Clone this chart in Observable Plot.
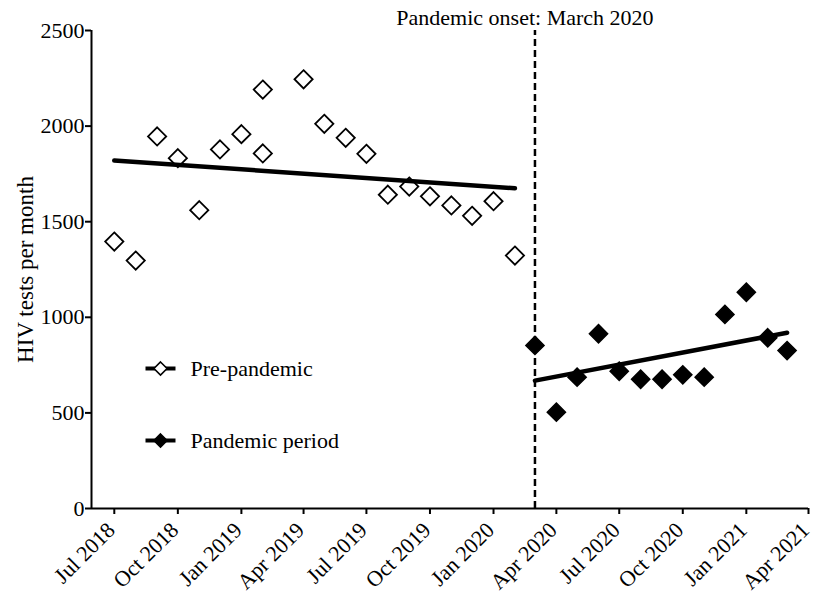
<!DOCTYPE html>
<html><head><meta charset="utf-8">
<script src="https://cdn.jsdelivr.net/npm/d3@7"></script>
<script src="https://cdn.jsdelivr.net/npm/@observablehq/plot@0.6"></script>
<style>body{margin:0;background:#fff}</style>
</head><body><div id="chart"></div>
<script>
const preMonths = ["2018-07","2018-08","2018-09","2018-10","2018-11","2018-12","2019-01","2019-02","2019-02","2019-04","2019-05","2019-06","2019-07","2019-08","2019-09","2019-10","2019-11","2019-12","2020-01","2020-02"];
const preValues = [1396,1297,1946,1832,1560,1878,1958,2191,1857,2245,2012,1939,1855,1641,1684,1633,1585,1531,1607,1323];
const pandemicMonths = ["2020-03","2020-04","2020-05","2020-06","2020-07","2020-08","2020-09","2020-10","2020-11","2020-12","2021-01","2021-02","2021-03"];
const pandemicValues = [853,504,687,914,718,676,676,699,687,1015,1131,893,826];
const preTrendMonths = ["2018-07","2020-02"];
const preTrendValues = [1820,1675];
const pandemicTrendMonths = ["2020-03","2021-03"];
const pandemicTrendValues = [669,919];
const onsetMonth = "2020-03";
const onsetLabel = "Pandemic onset: March 2020";
const tickMonths = ["2018-07","2018-10","2019-01","2019-04","2019-07","2019-10","2020-01","2020-04","2020-07","2020-10","2021-01","2021-04"];
const yTicks = [0,500,1000,1500,2000,2500];
const xDomainDays = ["2018-05-29","2021-04-01"];
const yDomain = [0,2500];
const yLabel = "HIV tests per month";
const legendLabels = ["Pre-pandemic","Pandemic period"];

const pm = d3.utcParse("%Y-%m");
const pd = d3.utcParse("%Y-%m-%d");
const pre = preMonths.map((m,i)=>({date:pm(m), value:preValues[i]}));
const pan = pandemicMonths.map((m,i)=>({date:pm(m), value:pandemicValues[i]}));
const preTrend = preTrendMonths.map((m,i)=>({date:pm(m), value:preTrendValues[i]}));
const panTrend = pandemicTrendMonths.map((m,i)=>({date:pm(m), value:pandemicTrendValues[i]}));
const xDomain = xDomainDays.map(pd);
const tickDates = tickMonths.map(pm);
const onset = pm(onsetMonth);

const lineSymbol = {draw(ctx, size){ ctx.moveTo(-15,0); ctx.lineTo(15,0); }};

function legendEntry(label, i, filled){
  const dy = 338 + i*72;
  return [
    Plot.dot([label], {frameAnchor:"top-left", dx:69, dy, symbol:lineSymbol, stroke:"black", strokeWidth:4, r:5}),
    Plot.dot([label], {frameAnchor:"top-left", dx:69, dy, symbol:"diamond2", r:5.9, stroke:"black", strokeWidth:1.6, fill: filled ? "black" : "white"}),
    Plot.text([label], {frameAnchor:"top-left", dx:99, dy, text:d=>d, textAnchor:"start", lineAnchor:"middle", fill:"black"})
  ];
}

const chart = Plot.plot({
  width: 814, height: 594,
  marginLeft: 91, marginRight: 6, marginTop: 30, marginBottom: 86,
  style: {fontFamily: "'Liberation Serif', 'Times New Roman', serif", fontSize: "22px", color: "black", background: "white"},
  x: {type: "utc", domain: xDomain, axis: null},
  y: {domain: yDomain, axis: null},
  marks: [
    Plot.axisX({ticks: tickDates, tickFormat: () => "", tickSize: 6, strokeWidth: 2, label: null}),
    Plot.axisX({ticks: tickDates, tickFormat: d3.utcFormat("%b %Y"), tickRotate: -45, tickSize: 0, tickPadding: 18, dx: -3, label: null}),
    Plot.axisY({ticks: yTicks, tickFormat: d3.format("d"), tickSize: 6, strokeWidth: 2, tickPadding: 1, label: null}),
    Plot.text([yLabel], {frameAnchor: "left", dx: -66, rotate: -90, text: d=>d, textAnchor: "middle", lineAnchor: "middle", fill: "black", fontSize: 23}),
    Plot.ruleY([yDomain[0]], {stroke: "black", strokeWidth: 2}),
    Plot.ruleX([xDomain[0]], {x: d=>d, y1: yDomain[0], y2: yDomain[1], stroke: "black", strokeWidth: 2}),
    Plot.ruleX([onset], {x: d=>d, y1: yDomain[0], y2: yDomain[1], stroke: "black", strokeWidth: 2.5, strokeDasharray: "7,4"}),
    Plot.text([onsetLabel], {x: ()=>onset, frameAnchor: "top", dx: -10, dy: -13, text: d=>d, lineAnchor: "middle", fill: "black"}),
    Plot.line(preTrend, {x: "date", y: "value", stroke: "black", strokeWidth: 4.5}),
    Plot.line(panTrend, {x: "date", y: "value", stroke: "black", strokeWidth: 4.5}),
    Plot.dot(pre, {x: "date", y: "value", symbol: "diamond2", r: 8.2, stroke: "black", strokeWidth: 1.8, fill: "none"}),
    Plot.dot(pan, {x: "date", y: "value", symbol: "diamond2", r: 8.2, stroke: "black", strokeWidth: 1.5, fill: "black"}),
    ...legendEntry(legendLabels[0], 0, false),
    ...legendEntry(legendLabels[1], 1, true)
  ]
});
document.getElementById("chart").appendChild(chart);
</script>
</body></html>
